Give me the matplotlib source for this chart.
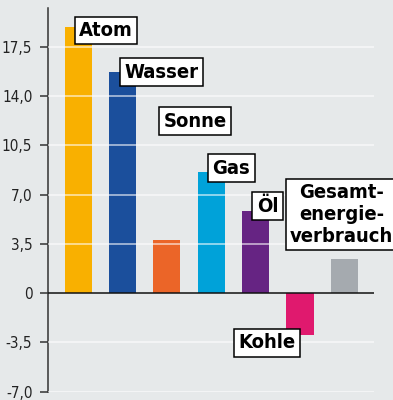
import matplotlib
matplotlib.use("Agg")
import matplotlib.pyplot as plt

# Energy sources and their values
categories = ["Atom", "Wasser", "Sonne", "Gas", "Öl", "Kohle", "Gesamt-\nenergie-\nverbrauch"]
values = [18.9, 15.7, 3.8, 8.6, 5.8, -3.0, 2.4]
colors = ["#F9B000", "#1B4F9C", "#EB6528", "#00A2D9", "#662483", "#E0196E", "#A5AAAF"]

tick_values = [-7.0, -3.5, 0, 3.5, 7.0, 10.5, 14.0, 17.5]
tick_labels = ["-7,0", "-3,5", "0", "3,5", "7,0", "10,5", "14,0", "17,5"]

# label box centres in data coordinates (x offset from bar, y level)
label_pos = [(0.625, 18.66), (1.867, 15.69), (2.634, 12.21), (3.45, 8.87),
             (4.27, 6.18), (4.255, -3.54), (5.94, 5.58)]

BG = "#E6E9EA"

fig = plt.figure(figsize=(3.93, 4.0), dpi=100, facecolor=BG)
ax = fig.add_axes([0.1214, 0.02125, 0.8303, 0.95875], facecolor=BG)

x = list(range(len(categories)))
ax.bar(x, values, width=0.61, color=colors, zorder=2)

ax.set_xlim(-0.69, 6.67)
ax.set_ylim(-7.0, 20.26)

# light grid lines drawn across bars
for t in tick_values:
    if t != 0:
        ax.axhline(t, color="white", lw=1.2, alpha=0.65, zorder=3)
ax.axhline(0, color="#111111", lw=1.1, zorder=4)

for s in ["top", "right", "bottom"]:
    ax.spines[s].set_visible(False)
ax.spines["left"].set_color("#333333")
ax.spines["left"].set_linewidth(1.1)
ax.spines["left"].set_bounds(-7.0, 20.26)

ax.set_xticks([])
ax.set_yticks(tick_values)
ax.set_yticklabels(tick_labels, family="DejaVu Sans", stretch="condensed",
                   fontsize=11, color="#222222")
ax.tick_params(axis="y", length=6, width=1.1, color="#333333", pad=5)

for (lx, ly), name in zip(label_pos, categories):
    ax.text(lx, ly, name, ha="center", va="center", family="DejaVu Sans",
            stretch="condensed", fontweight="bold", fontsize=14.5,
            color="black", zorder=6, linespacing=1.18, clip_on=False,
            bbox=dict(boxstyle="square,pad=0.22", fc="white", ec="black", lw=1.1))

fig.savefig("out.png", dpi=100, facecolor=BG)
